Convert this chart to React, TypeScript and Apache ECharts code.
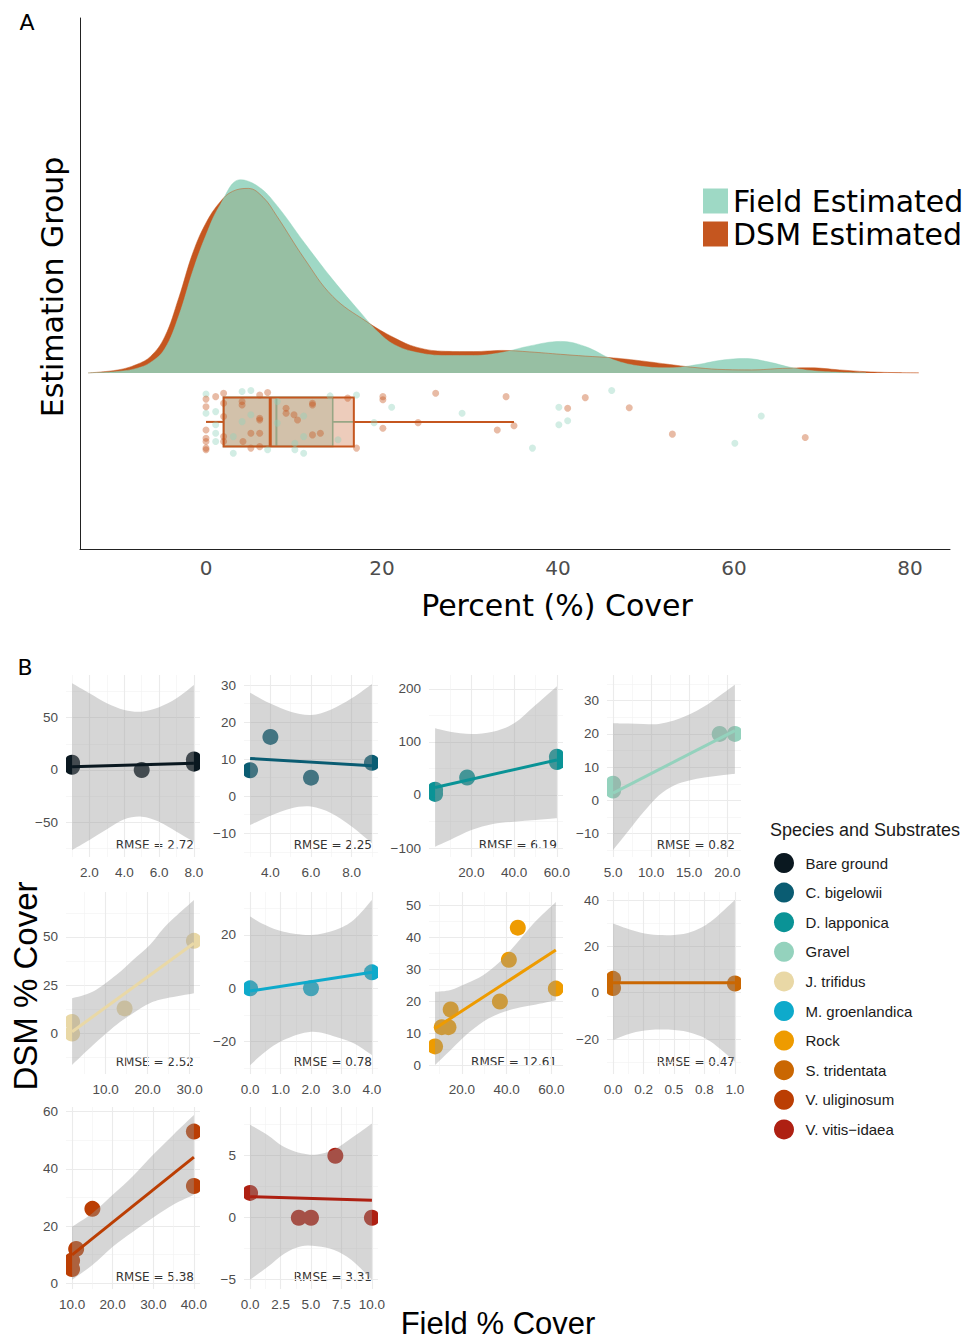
import React, { useEffect, useRef } from "react";
import * as echarts from "echarts";

// ---------------- Panel A data ----------------
const fieldDensity: number[][] = [
  [-13.4, 0], [-10.0, 0.0005], [-7.9, 0.0015], [-6.3, 0.0035], [-4.7, 0.008], [-3.1, 0.019],
  [-1.5, 0.034], [0.0, 0.046], [1.6, 0.056], [3.9, 0.0644], [6.0, 0.062], [8.0, 0.056],
  [11.2, 0.0433], [14.4, 0.0311], [17.6, 0.02], [19.5, 0.0138], [21.4, 0.0094], [24.0, 0.0068],
  [27.2, 0.0058], [30.4, 0.0058], [33.6, 0.0068], [36.8, 0.009], [40.3, 0.0105], [43.1, 0.0088],
  [46.3, 0.0044], [49.5, 0.0022], [52.7, 0.0017], [55.9, 0.0028], [58.5, 0.0042], [61.3, 0.0048],
  [64.0, 0.0036], [66.5, 0.0018], [68.7, 0.0008], [72.0, 0.0002], [75.0, 0],
];
const dsmDensity: number[][] = [
  [-13.4, 0], [-10.0, 0.001], [-7.9, 0.0028], [-6.3, 0.0055], [-4.7, 0.012], [-3.1, 0.025],
  [-1.5, 0.04], [0.0, 0.05], [1.6, 0.057], [3.0, 0.0605], [4.8, 0.0615], [6.5, 0.0585], [8.0, 0.0525],
  [11.2, 0.038], [14.4, 0.0255], [18.2, 0.0172], [21.4, 0.0117], [24.0, 0.0085], [27.2, 0.0072],
  [30.4, 0.0071], [33.6, 0.0075], [36.8, 0.007], [40.3, 0.0062], [43.1, 0.0056], [46.3, 0.005],
  [49.5, 0.004], [52.7, 0.0028], [55.9, 0.0017], [59.0, 0.0011], [62.0, 0.001], [65.5, 0.0015],
  [68.7, 0.0017], [72.0, 0.001], [75.1, 0.0004], [78.3, 0.0001], [81.0, 0],
];
const boxGroups = ["Field Estimated", "DSM Estimated"];
const boxLowerWhisker = [0, 0];
const boxQ1 = [2.0, 2.0];
const boxMedian = [8.0, 7.3];
const boxQ3 = [14.4, 16.8];
const boxUpperWhisker = [29.1, 35.0];
// [percent cover, vertical jitter (+ up, in box half-heights)]
const fieldJitter: number[][] = [
  [0, 1.14], [0, 0.35], [1.1, 0.42], [1.1, -0.12], [1.1, -0.46], [1.1, -0.8], [3.1, -0.6], [3.1, -1.28],
  [4.1, 1.24], [4.1, 0.01], [5.1, 1.28], [5.1, 0.29], [7.0, -1.14], [8.1, 0.83], [8.1, -0.05],
  [10.1, -0.87], [10.1, -1.14], [11.1, 0.24], [11.1, -0.6], [11.1, -1.28], [14.1, 1.06], [15.0, -0.73],
  [17.1, 1.1], [19.1, -0.03], [21.1, 0.6], [29.1, 0.35], [37.1, -1.07], [40.1, 0.6], [40.1, -0.12],
  [41.1, 0.05], [46.1, 1.28], [60.1, -0.87], [63.1, 0.24],
];
const dsmJitter: number[][] = [
  [0, 0.93], [0, 0.62], [1.1, 1.03], [2.0, 1.17], [0, -0.33], [0, -0.67], [0, -0.8], [0, -1.07], [0, -1.14],
  [2.0, 0.76], [2.0, 0.22], [2.0, -0.6], [2.0, -0.8], [4.1, 0.83], [4.1, 0.69], [4.2, -0.8], [5.1, -0.46],
  [5.1, -1.07], [6.1, 1.1], [6.1, 0.15], [6.1, 0.08], [6.1, -0.46], [6.1, -1.01], [7.0, 1.2], [9.1, 0.56],
  [9.1, 0.35], [10.0, 0.29], [10.4, 0.08], [12.1, 0.76], [12.1, 0.69], [12.1, -0.53], [13.0, -0.46],
  [16.1, 0.97], [17.1, -1.07], [20.1, 1.03], [20.1, 0.9], [20.1, -0.26], [24.1, -0.03], [26.1, 1.17],
  [33.1, -0.33], [34.1, 1.03], [35.0, -0.16], [41.1, 0.56], [43.1, 0.99], [48.1, 0.58], [53.0, -0.5],
  [68.1, -0.64],
];
const panelATicks = [0, 20, 40, 60, 80];

// ---------------- Panel B data ----------------
const species = [
  "Bare ground", "C. bigelowii", "D. lapponica", "Gravel", "J. trifidus",
  "M. groenlandica", "Rock", "S. tridentata", "V. uliginosum", "V. vitis\u2212idaea",
];
const speciesColors = [
  "#0A1820", "#0A5C72", "#0A9396", "#94D2BD", "#E9D8A6",
  "#0EAACB", "#EE9B00", "#CA6702", "#BB3E03", "#AE2012",
];
const rmseValues = ["2.72", "2.25", "6.19", "0.82", "2.52", "0.78", "12.61", "0.47", "5.38", "3.31"];

const bareGroundPoints = [[1, 3], [1, 7], [5, 0], [8, 6], [8, 10]];
const bareGroundFit = [[1, 3.2], [8, 6.4]];
const bareGroundBand = [[1, -76.4, 82.8], [2, -66.9, 73.2], [3, -56.7, 63.7], [4, -47.1, 57.3], [5, -44.6, 55.7], [6, -49.4, 59.9], [7, -58.9, 68.4], [8, -68.5, 81.2]];

const bigelowiiPoints = [[3, 7], [4, 16], [6, 5], [9, 9]];
const bigelowiiFit = [[3, 10.2], [9, 8.2]];
const bigelowiiBand = [[3, -7.8, 27.9], [4, -5.3, 25.0], [5, -3.3, 22.8], [6, -2.8, 21.9], [7, -4.6, 23.4], [8, -8.2, 26.4], [9, -12.7, 30.3]];

const lapponicaPoints = [[3, 2], [3, 10], [18, 33], [60, 62], [60, 72]];
const lapponicaFit = [[3, 14], [60, 66]];
const lapponicaBand = [[3, -97.4, 125.6], [10, -84.7, 119.2], [20, -65.9, 114.9], [30, -54.6, 119.2], [40, -50.3, 135], [50, -47, 169.5], [60, -44, 205]];

const gravelPoints = [[5, 3], [5, 5], [19, 20], [21, 20]];
const gravelFit = [[5, 2.2], [21, 21]];
const gravelBand = [[5, -14.9, 23.2], [7, -9.2, 23.1], [9, -3.5, 23.0], [11, 1.5, 23.0], [13, 4.5, 24.0], [15, 6.0, 25.8], [17, 6.9, 28.3], [19, 7.5, 31.5], [21, 8.0, 34.8]];

const trifidusPoints = [[2, 0], [2, 6], [14.5, 13], [31, 48]];
const trifidusFit = [[2, 0.9], [31, 46.7]];
const trifidusBand = [[2, -16.3, 18.2], [7, -6.0, 21.7], [12.5, 4.4, 30.3], [16.5, 10.5, 38.1], [20.5, 15.7, 45.8], [24.5, 18.2, 56.2], [31, 20.8, 69.2]];

const groenlandicaPoints = [[0, 0], [2, 0], [4, 6]];
const groenlandicaFit = [[0, -1], [4, 6]];
const groenlandicaBand = [[0, -28.8, 26.9], [0.5, -23.8, 23.7], [1.1, -19.4, 21.2], [2, -16.3, 20.0], [2.8, -18.1, 21.9], [3.4, -20.6, 25.6], [4, -25, 33.1]];

const rockPoints = [[8, 6], [11, 12], [14, 12], [15, 17.5], [37, 20], [41, 33], [45, 43], [62, 24]];
const rockFit = [[8, 11.6], [62, 36]];
const rockBand = [[8, 0.2, 23.0], [15, 4.9, 23.6], [22, 9.6, 25.6], [29.5, 13.7, 28.2], [37, 16.3, 32.4], [44.5, 17.9, 38.1], [52, 18.9, 44.3], [62, 20.4, 51.0]];

const tridentataPoints = [[0, 2], [0, 6], [1, 4]];
const tridentataFit = [[0, 4.3], [1, 4.3]];
const tridentataBand = [[0, -20.4, 29.9], [0.15, -17.5, 27.1], [0.3, -16.1, 25.2], [0.5, -16.1, 24.9], [0.65, -17.5, 26.4], [0.8, -21.1, 30.6], [1, -29.8, 40.0]];

const uliginosumPoints = [[10, 5], [10, 8], [11, 12], [15, 26], [40, 34], [40, 53]];
const uliginosumFit = [[10, 9.9], [40, 44.1]];
const uliginosumBand = [[10, 1.2, 19.8], [15, 6.4, 24.5], [20, 12.8, 30.9], [25, 18.0, 37.5], [30, 23.0, 45.0], [35, 27.5, 52.0], [40, 30.9, 58.8]];

const vitisIdaeaPoints = [[0, 2], [4, 0], [5, 0], [7, 5], [10, 0]];
const vitisIdaeaFit = [[0, 1.7], [10, 1.4]];
const vitisIdaeaBand = [[0, -5.0, 7.5], [1.4, -4.0, 6.7], [2.8, -2.9, 5.7], [4.2, -2.3, 5.2], [5.5, -2.3, 5.1], [6.9, -2.6, 5.5], [8.3, -3.4, 6.4], [10, -5.0, 7.6]];

const speciesPoints = [bareGroundPoints, bigelowiiPoints, lapponicaPoints, gravelPoints, trifidusPoints, groenlandicaPoints, rockPoints, tridentataPoints, uliginosumPoints, vitisIdaeaPoints];
const speciesFits = [bareGroundFit, bigelowiiFit, lapponicaFit, gravelFit, trifidusFit, groenlandicaFit, rockFit, tridentataFit, uliginosumFit, vitisIdaeaFit];
const speciesBands = [bareGroundBand, bigelowiiBand, lapponicaBand, gravelBand, trifidusBand, groenlandicaBand, rockBand, tridentataBand, uliginosumBand, vitisIdaeaBand];

const xTickValues = [[2, 4, 6, 8], [4, 6, 8], [20, 40, 60], [5, 10, 15, 20], [10, 20, 30], [0, 1, 2, 3, 4], [20, 40, 60], [0, 0.25, 0.5, 0.75, 1], [10, 20, 30, 40], [0, 2.5, 5, 7.5, 10]];
const xTickLabels = [
  ["2.0", "4.0", "6.0", "8.0"], ["4.0", "6.0", "8.0"], ["20.0", "40.0", "60.0"], ["5.0", "10.0", "15.0", "20.0"],
  ["10.0", "20.0", "30.0"], ["0.0", "1.0", "2.0", "3.0", "4.0"], ["20.0", "40.0", "60.0"], ["0.0", "0.2", "0.5", "0.8", "1.0"],
  ["10.0", "20.0", "30.0", "40.0"], ["0.0", "2.5", "5.0", "7.5", "10.0"],
];
const yTickValues = [[-50, 0, 50], [-10, 0, 10, 20, 30], [-100, 0, 100, 200], [-10, 0, 10, 20, 30], [0, 25, 50], [-20, 0, 20], [0, 10, 20, 30, 40, 50], [-20, 0, 20, 40], [0, 20, 40, 60], [-5, 0, 5]];
const yTickLabels = [
  ["\u221250", "0", "50"], ["\u221210", "0", "10", "20", "30"], ["\u2212100", "0", "100", "200"], ["\u221210", "0", "10", "20", "30"],
  ["0", "25", "50"], ["\u221220", "0", "20"], ["0", "10", "20", "30", "40", "50"], ["\u221220", "0", "20", "40"],
  ["0", "20", "40", "60"], ["\u22125", "0", "5"],
];

// ---------------- Scales / layout ----------------
const panelLimits = [
  [0.65, 8.35, -83.1, 90.7], [2.7, 9.3, -16.4, 32.7], [0.15, 62.85, -116.8, 226], [4.2, 21.8, -17.0, 37.7],
  [0.55, 32.45, -21.0, 73.3], [-0.2, 4.2, -32.1, 36.1], [5.3, 65.2, -2.6, 54.1], [-0.05, 1.05, -35.1, 43.5],
  [8.5, 41.5, -2.0, 61.6], [-0.5, 10.5, -5.75, 8.93],
];
const A = { left: 80, top: 18, width: 870, height: 531, xMin: -14.32, xMax: 84.55, yMin: -0.0587, yMax: 0.1183, boxCenter: -0.01633, boxHalf: 0.00817 };
const COL_LEFT = [66, 244, 429, 607];
const ROW_TOP = [675, 892, 1107];
const PANEL_W = 134;
const PANEL_H = 182;

const RibbonShape = echarts.graphic.extendShape({
  type: "ribbonBand",
  shape: { upper: [], lower: [] },
  buildPath(ctx: any, shape: any) {
    const trace = (pts: number[][], first: boolean) => {
      if (first) ctx.moveTo(pts[0][0], pts[0][1]);
      else ctx.lineTo(pts[0][0], pts[0][1]);
      for (let i = 0; i < pts.length - 1; i++) {
        const p0 = pts[Math.max(i - 1, 0)], p1 = pts[i], p2 = pts[i + 1], p3 = pts[Math.min(i + 2, pts.length - 1)];
        ctx.bezierCurveTo(
          p1[0] + (p2[0] - p0[0]) / 6, p1[1] + (p2[1] - p0[1]) / 6,
          p2[0] - (p3[0] - p1[0]) / 6, p2[1] - (p3[1] - p1[1]) / 6,
          p2[0], p2[1]
        );
      }
    };
    trace(shape.upper, true);
    trace(shape.lower.slice().reverse(), false);
    ctx.closePath();
  },
});
echarts.graphic.registerShape("ribbonBand", RibbonShape);

function minorBreaks(ticks: number[], min: number, max: number): number[] {
  const step = ticks[1] - ticks[0];
  const out: number[] = [];
  for (let k = -1; k < ticks.length; k++) {
    const v = ticks[0] + step * k + step / 2;
    if (v > min && v < max) out.push(v);
  }
  return out;
}
function lookup(values: number[], labels: string[]) {
  return (v: number) => {
    const i = values.findIndex((t) => Math.abs(t - v) < 1e-6);
    return i >= 0 ? labels[i] : "";
  };
}

function buildOption() {
  const grids: any[] = [{ left: A.left, top: A.top, width: A.width, height: A.height }];
  const axisLineA = { show: true, onZero: false, lineStyle: { color: "#222", width: 1 } };
  const xAxes: any[] = [{
    gridIndex: 0, type: "value", min: A.xMin, max: A.xMax, axisLine: axisLineA,
    axisTick: { show: false, customValues: panelATicks },
    axisLabel: { customValues: panelATicks, fontSize: 20, color: "#4D4D4D", fontFamily: "DejaVu Sans", margin: 9 },
    splitLine: { show: false },
  }];
  const yAxes: any[] = [{
    gridIndex: 0, type: "value", min: A.yMin, max: A.yMax, axisLine: axisLineA,
    axisTick: { show: false }, axisLabel: { show: false }, splitLine: { show: false },
  }];
  const series: any[] = [
    {
      type: "line", name: "DSM Estimated", xAxisIndex: 0, yAxisIndex: 0, data: dsmDensity, smooth: 0.4,
      symbol: "none", lineStyle: { color: "#C5561F", width: 0.5 }, itemStyle: { color: "#C5561F" },
      areaStyle: { color: "#C5561F", opacity: 1 }, silent: true,
    },
    {
      type: "line", name: "Field Estimated", xAxisIndex: 0, yAxisIndex: 0, data: fieldDensity, smooth: 0.4,
      symbol: "none", lineStyle: { color: "rgba(142,209,187,0.85)", width: 0.5 }, itemStyle: { color: "#9ED9C5" },
      areaStyle: { color: "rgba(142,209,187,0.85)", opacity: 1 }, silent: true,
    },
    {
      type: "scatter", name: "field points", xAxisIndex: 0, yAxisIndex: 0, symbolSize: 7, silent: true,
      itemStyle: { color: "rgba(142,209,187,0.5)" },
      data: fieldJitter.map(([x, j]) => [x, A.boxCenter + j * A.boxHalf]),
    },
    {
      type: "scatter", name: "dsm points", xAxisIndex: 0, yAxisIndex: 0, symbolSize: 7, silent: true,
      itemStyle: { color: "rgba(197,86,31,0.5)" },
      data: dsmJitter.map(([x, j]) => [x, A.boxCenter + j * A.boxHalf]),
    },
  ];
  const boxStyles = [
    { stroke: "#86C9B2", fill: "rgba(142,209,187,0.35)", w: 1.6, mw: 2 },
    { stroke: "#C5561F", fill: "rgba(197,86,31,0.3)", w: 2, mw: 3 },
  ];
  boxGroups.forEach((g, gi) => {
    series.push({
      type: "custom", name: g + " box", xAxisIndex: 0, yAxisIndex: 0, silent: true,
      data: [[boxLowerWhisker[gi], boxQ1[gi], boxMedian[gi], boxQ3[gi], boxUpperWhisker[gi]]],
      renderItem: (params: any, api: any) => {
        const st = boxStyles[gi];
        const x = (v: number) => api.coord([v, A.boxCenter])[0];
        const mid = api.coord([0, A.boxCenter])[1];
        const top = api.coord([0, A.boxCenter + A.boxHalf])[1];
        const bot = api.coord([0, A.boxCenter - A.boxHalf])[1];
        const lo = api.value(0), q1 = api.value(1), md = api.value(2), q3 = api.value(3), hi = api.value(4);
        const ls = { stroke: st.stroke, lineWidth: st.w };
        return {
          type: "group",
          children: [
            { type: "line", shape: { x1: x(lo), y1: mid, x2: x(q1), y2: mid }, style: ls },
            { type: "line", shape: { x1: x(q3), y1: mid, x2: x(hi), y2: mid }, style: ls },
            { type: "rect", shape: { x: x(q1), y: top, width: x(q3) - x(q1), height: bot - top }, style: { fill: st.fill, stroke: st.stroke, lineWidth: st.w } },
            { type: "line", shape: { x1: x(md), y1: top, x2: x(md), y2: bot }, style: { stroke: st.stroke, lineWidth: st.mw } },
          ],
        };
      },
    });
  });

  const graphics: any[] = [
    { type: "text", x: 27, y: 22, style: { text: "A", fontSize: 22, fontFamily: "DejaVu Sans", fill: "#000", align: "center", verticalAlign: "middle" } },
    { type: "text", x: 25, y: 667, style: { text: "B", fontSize: 22, fontFamily: "DejaVu Sans", fill: "#000", align: "center", verticalAlign: "middle" } },
    { type: "text", x: 52, y: 287, rotation: Math.PI / 2, style: { text: "Estimation Group", fontSize: 30, fontFamily: "DejaVu Sans", fill: "#000", align: "center", verticalAlign: "middle" } },
    { type: "text", x: 557, y: 605, style: { text: "Percent (%) Cover", fontSize: 30, fontFamily: "DejaVu Sans", fill: "#000", align: "center", verticalAlign: "middle" } },
    { type: "text", x: 770, y: 830, style: { text: "Species and Substrates", fontSize: 18, fontFamily: "Liberation Sans", fill: "#1A1A1A", align: "left", verticalAlign: "middle" } },
    { type: "text", x: 25, y: 986, rotation: Math.PI / 2, style: { text: "DSM % Cover", fontSize: 33, fontFamily: "Liberation Sans", fill: "#000", align: "center", verticalAlign: "middle" } },
    { type: "text", x: 498, y: 1323, style: { text: "Field % Cover", fontSize: 31, fontFamily: "Liberation Sans", fill: "#000", align: "center", verticalAlign: "middle" } },
  ];

  species.forEach((sp, i) => {
    const left = COL_LEFT[i % 4];
    const top = ROW_TOP[Math.floor(i / 4)];
    const gi = i + 1;
    grids.push({ left, top, width: PANEL_W, height: PANEL_H });
    const [xmin, xmax, ymin, ymax] = panelLimits[i];
    const major = { color: "#EBEBEB", width: 1.1 };
    const minor = { color: "#F1F1F1", width: 0.6 };
    const labelStyle = { color: "#4D4D4D", fontSize: 13.5, fontFamily: "Liberation Sans", margin: 8 };
    xAxes.push({
      gridIndex: gi, type: "value", min: xmin, max: xmax, position: "bottom",
      axisLine: { show: false }, axisTick: { show: false, customValues: xTickValues[i] },
      axisLabel: { ...labelStyle, customValues: xTickValues[i], formatter: lookup(xTickValues[i], xTickLabels[i]) },
      splitLine: { show: true, lineStyle: major },
    });
    xAxes.push({
      gridIndex: gi, type: "value", min: xmin, max: xmax, position: "top",
      axisLine: { show: false }, axisTick: { show: false, customValues: minorBreaks(xTickValues[i], xmin, xmax) },
      axisLabel: { show: false }, splitLine: { show: true, lineStyle: minor },
    });
    yAxes.push({
      gridIndex: gi, type: "value", min: ymin, max: ymax, position: "left",
      axisLine: { show: false }, axisTick: { show: false, customValues: yTickValues[i] },
      axisLabel: { ...labelStyle, customValues: yTickValues[i], formatter: lookup(yTickValues[i], yTickLabels[i]) },
      splitLine: { show: true, lineStyle: major },
    });
    yAxes.push({
      gridIndex: gi, type: "value", min: ymin, max: ymax, position: "right",
      axisLine: { show: false }, axisTick: { show: false, customValues: minorBreaks(yTickValues[i], ymin, ymax) },
      axisLabel: { show: false }, splitLine: { show: true, lineStyle: minor },
    });
    const xi = 1 + 2 * i;
    const color = speciesColors[i];
    const band = speciesBands[i];
    series.push({
      type: "custom", name: sp, xAxisIndex: xi, yAxisIndex: xi, clip: true, silent: true,
      itemStyle: { color }, data: speciesPoints[i],
      renderItem: (params: any, api: any) => {
        const c = api.coord([api.value(0), api.value(1)]);
        return { type: "circle", shape: { cx: c[0], cy: c[1], r: 8 }, style: { fill: color } };
      },
    });
    series.push({
      type: "custom", name: sp + " band", xAxisIndex: xi, yAxisIndex: xi, clip: true, silent: true,
      data: band,
      renderItem: (params: any, api: any) => {
        if (params.dataIndex !== 0) return { type: "group", children: [] };
        return {
          type: "ribbonBand",
          shape: { upper: band.map((r) => api.coord([r[0], r[2]])), lower: band.map((r) => api.coord([r[0], r[1]])) },
          style: { fill: "rgba(153,153,153,0.4)" },
        };
      },
    });
    series.push({
      type: "line", name: sp + " fit", xAxisIndex: xi, yAxisIndex: xi, data: speciesFits[i], symbol: "none",
      lineStyle: { color, width: 3 }, itemStyle: { color }, silent: true,
    });
    graphics.push({
      type: "text", x: left + PANEL_W - 6, y: top + PANEL_H - 12,
      style: { text: "RMSE = " + rmseValues[i], fontSize: 12, fontFamily: "DejaVu Sans", fill: "#333", align: "right", verticalAlign: "middle" },
    });
  });

  return {
    animation: false,
    grid: grids,
    xAxis: xAxes,
    yAxis: yAxes,
    series,
    graphic: graphics,
    legend: [
      {
        left: 698, top: 181, orient: "vertical", itemWidth: 25, itemHeight: 25, itemGap: 3, selectedMode: false,
        textStyle: { fontSize: 30, fontFamily: "DejaVu Sans", color: "#000", lineHeight: 30 },
        data: [
          { name: "Field Estimated", icon: "rect", itemStyle: { color: "#9ED9C5", borderWidth: 0 } },
          { name: "DSM Estimated", icon: "rect", itemStyle: { color: "#C5561F", borderWidth: 0 } },
        ],
      },
      {
        left: 769, top: 848, orient: "vertical", itemWidth: 33, itemHeight: 20, itemGap: 9.6, selectedMode: false,
        textStyle: { fontSize: 15, fontFamily: "Liberation Sans", color: "#1A1A1A" },
        data: species.map((name, i) => ({ name, icon: "circle", itemStyle: { color: speciesColors[i], borderWidth: 0 } })),
      },
    ],
  };
}

export default function App() {
  const ref = useRef<HTMLDivElement>(null);
  useEffect(() => {
    document.body.style.margin = "0";
    if (!ref.current) return;
    const chart = echarts.init(ref.current, null, { renderer: "svg" });
    chart.setOption(buildOption() as any);
    return () => chart.dispose();
  }, []);
  return <div ref={ref} style={{ position: "absolute", left: 0, top: 0, width: 969, height: 1340, background: "#fff" }} />;
}
